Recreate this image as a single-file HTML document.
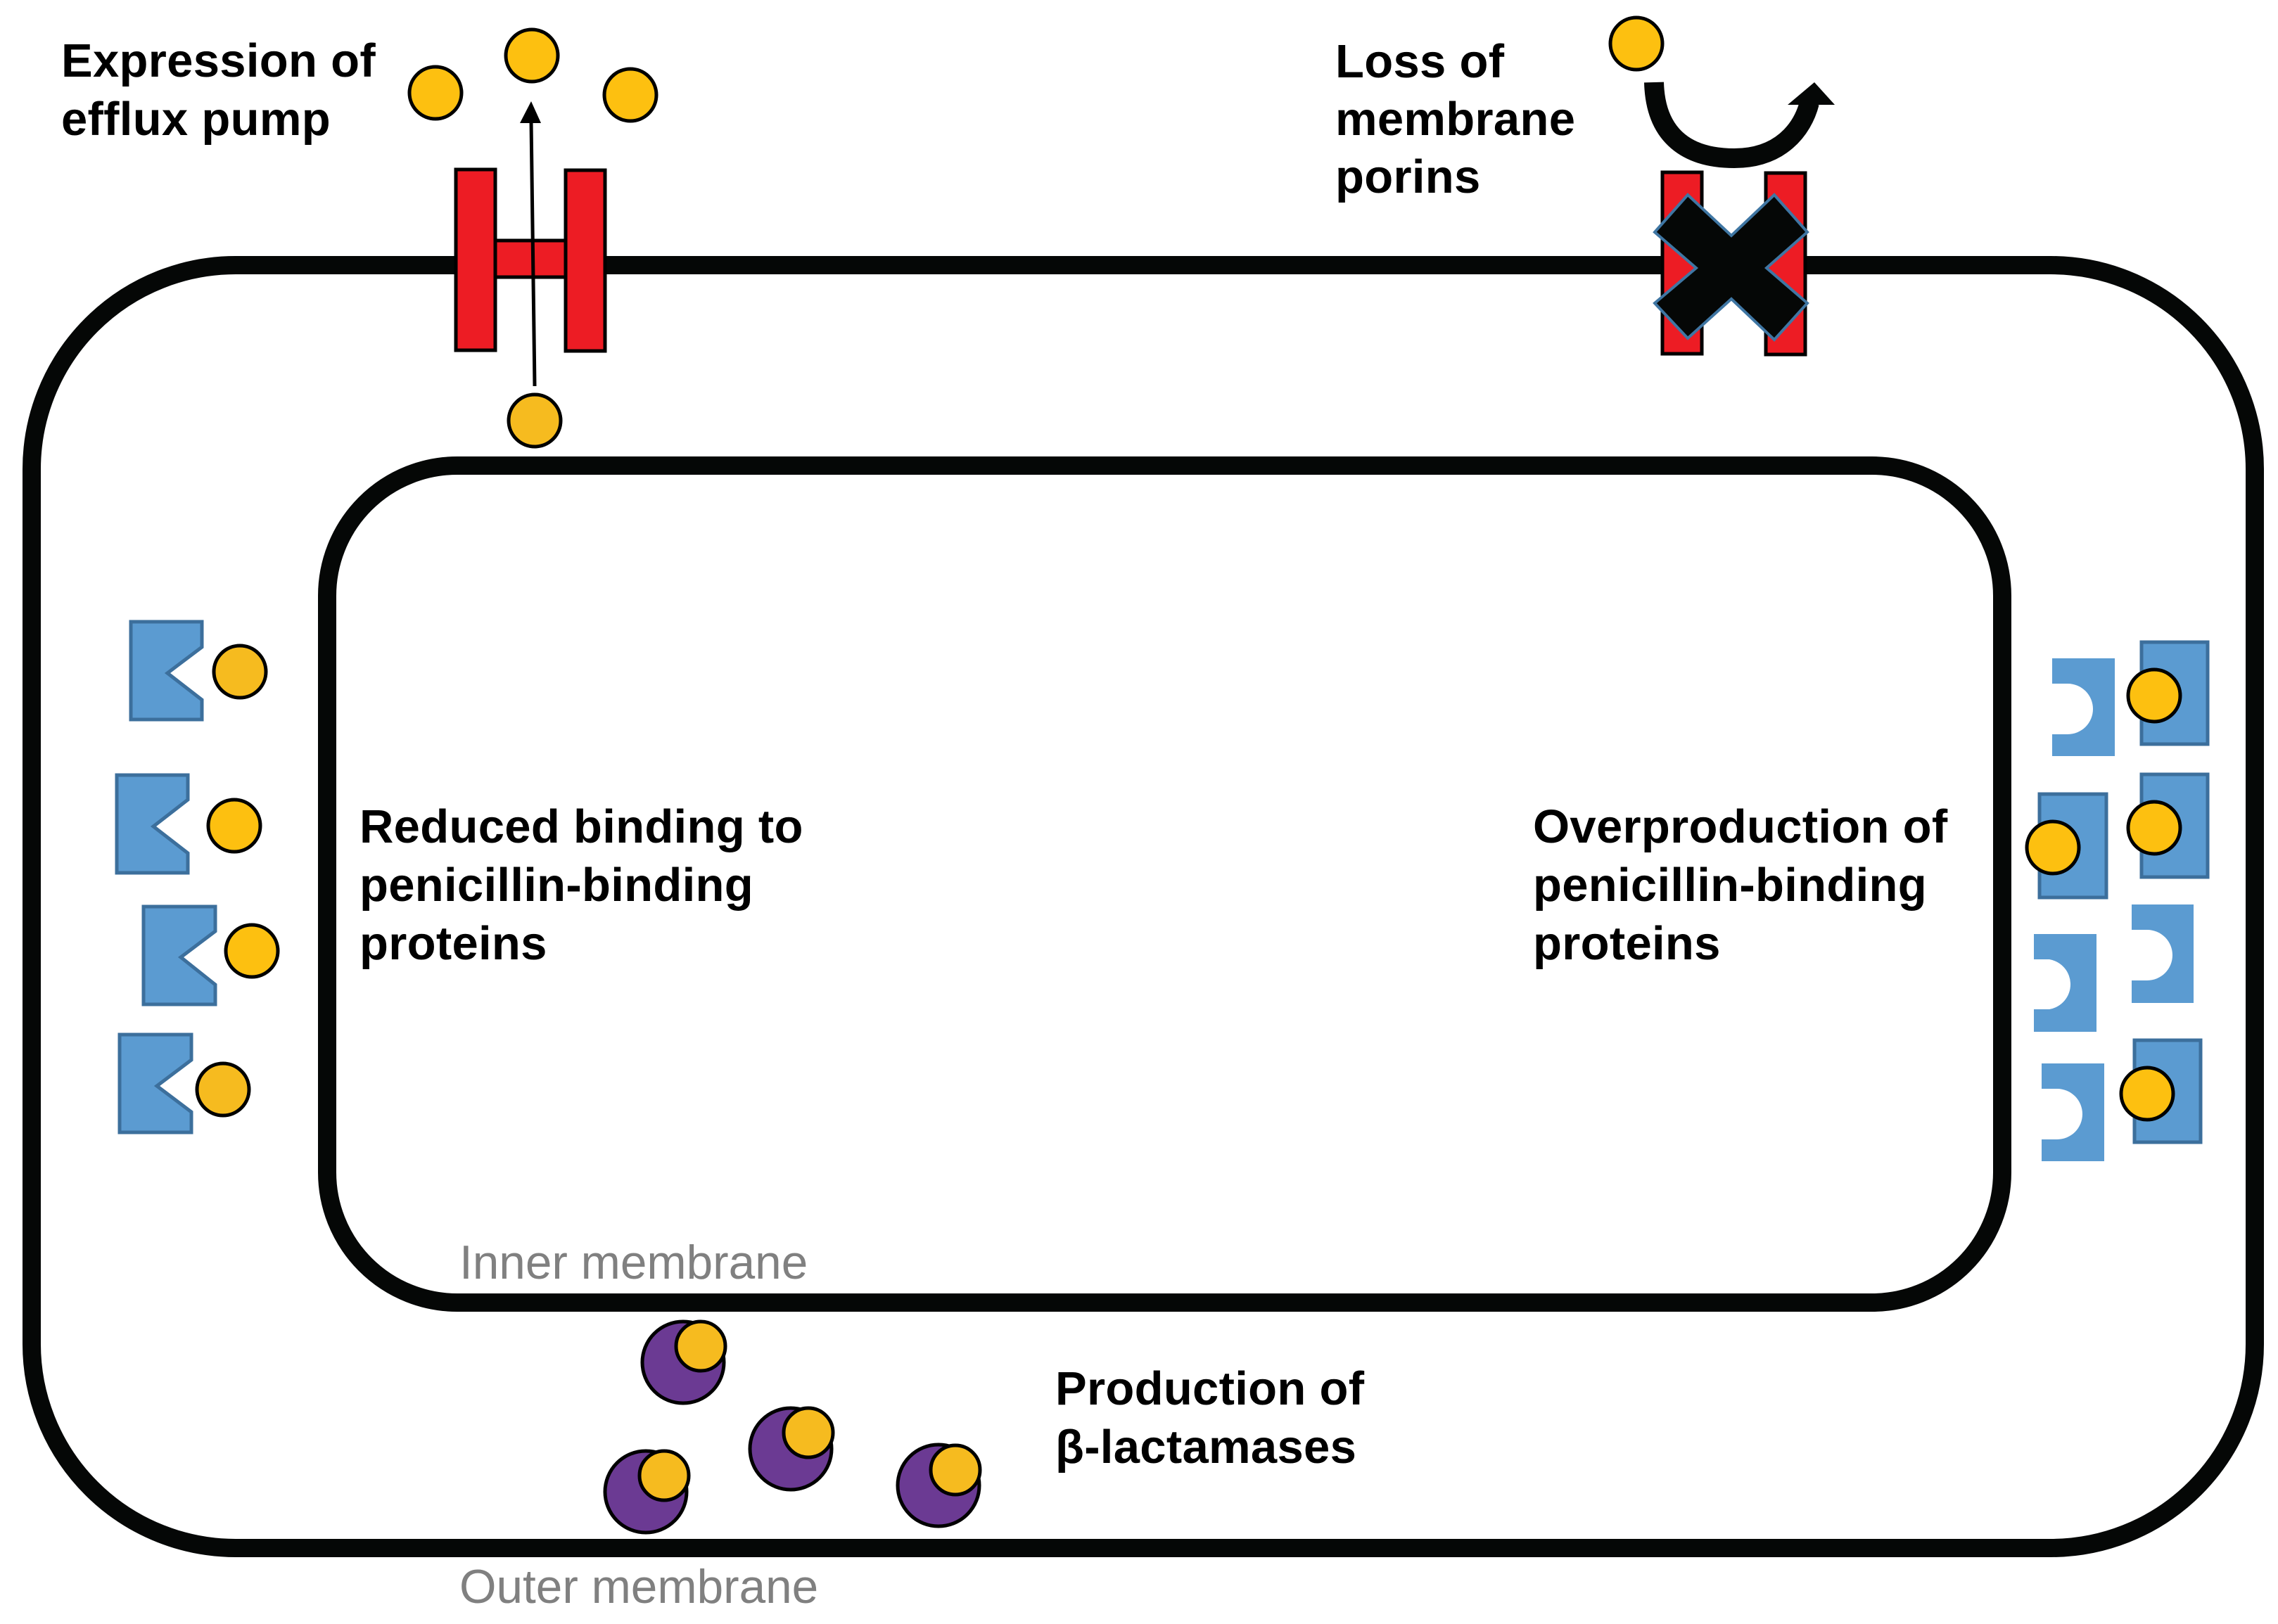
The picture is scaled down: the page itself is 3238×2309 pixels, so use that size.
<!DOCTYPE html>
<html><head><meta charset="utf-8"><style>
html,body{margin:0;padding:0;background:#fff;}
svg{display:block;}
.b{font-family:"Liberation Sans",Arial,sans-serif;font-weight:bold;font-size:67px;letter-spacing:0.3px;fill:#000;}
.g{font-family:"Liberation Sans",Arial,sans-serif;font-size:67.5px;fill:#808080;}
</style></head><body>
<svg width="3238" height="2309" viewBox="0 0 3238 2309" xmlns="http://www.w3.org/2000/svg">
<rect width="3238" height="2309" fill="#fff"/>
<rect x="45" y="377" width="3160" height="1824" rx="290" ry="290" fill="none" stroke="#050706" stroke-width="26"/>
<rect x="465" y="662" width="2381" height="1190" rx="185" ry="185" fill="none" stroke="#050706" stroke-width="26"/>

<rect x="648" y="241" width="56" height="257" fill="#ed1c24" stroke="#000" stroke-width="5"/>
<rect x="804" y="242" width="56" height="257" fill="#ed1c24" stroke="#000" stroke-width="5"/>
<rect x="704" y="342" width="100" height="52" fill="#ed1c24" stroke="#000" stroke-width="5"/>
<line x1="760" y1="549" x2="755" y2="172" stroke="#000" stroke-width="5"/>
<polygon points="755,144 739,175 769,175" fill="#000"/>
<g fill="#fdc010" stroke="#000" stroke-width="5">
<circle cx="619" cy="132" r="37"/>
<circle cx="756" cy="79" r="37"/>
<circle cx="896" cy="135" r="37"/>
<circle cx="760" cy="598" r="37" fill="#f6bb1f"/>
</g>

<rect x="2363" y="245" width="56" height="258" fill="#ed1c24" stroke="#000" stroke-width="5"/>
<rect x="2510" y="246" width="56" height="258" fill="#ed1c24" stroke="#000" stroke-width="5"/>
<polygon points="2399,277 2461,335 2522,277 2569,330 2511,381 2569,431 2522,483 2461,425 2399,481 2352,431 2411,381 2352,330" fill="#050706" stroke="#3f76a3" stroke-width="4"/>
<circle cx="2326" cy="62" r="37" fill="#fdc010" stroke="#000" stroke-width="5"/>
<path d="M2351,117 C2353,195 2400,225 2465,225 C2530,225 2562,185 2572,146" fill="none" stroke="#050706" stroke-width="28"/>
<polygon points="2579,117 2541,149 2608,149" fill="#050706"/>

<g fill="#5b9bd1" stroke="#3c6f9c" stroke-width="5">
<polygon points="186,884 287,884 287,920 238,957 287,995 287,1023 186,1023"/>
<polygon points="166,1102 267,1102 267,1137 218,1175 267,1213 267,1241 166,1241"/>
<polygon points="204,1289 306,1289 306,1324 257,1361 306,1400 306,1428 204,1428"/>
<polygon points="170,1471 272,1471 272,1507 223,1544 272,1581 272,1610 170,1610"/>
</g>
<g fill="#f6bb1f" stroke="#000" stroke-width="5">
<circle cx="341" cy="955" r="37"/>
<circle cx="333" cy="1174" r="37" fill="#fdc010"/>
<circle cx="358" cy="1352" r="37" fill="#fdc010"/>
<circle cx="317" cy="1549" r="37"/>
</g>

<g fill="#5b9bd1">
<path d="M2917,936 H3006 V1075 H2917 V1044 H2939 A36,36 0 0 0 2939,972 H2917 Z"/>
<path d="M3030,1286 H3118 V1426 H3030 V1394 H3052 A36,36 0 0 0 3052,1322 H3030 Z"/>
<path d="M2891,1328 H2980 V1467 H2891 V1435 H2913 A36,36 0 0 0 2913,1364 H2891 Z"/>
<path d="M2902,1512 H2991 V1651 H2902 V1620 H2924 A36,36 0 0 0 2924,1548 H2902 Z"/>
</g>
<g fill="#5b9bd1" stroke="#3c6f9c" stroke-width="5">
<rect x="3044" y="913" width="94" height="145"/>
<rect x="2899" y="1129" width="95" height="147"/>
<rect x="3044" y="1101" width="94" height="146"/>
<rect x="3034" y="1479" width="94" height="145"/>
</g>
<g fill="#fdc010" stroke="#000" stroke-width="5">
<circle cx="3062" cy="989" r="37"/>
<circle cx="2918" cy="1205" r="37"/>
<circle cx="3062" cy="1177" r="37"/>
<circle cx="3052" cy="1555" r="37"/>
</g>

<g stroke="#000" stroke-width="5">
<circle cx="971" cy="1937" r="58" fill="#6b3a93"/>
<circle cx="996" cy="1914" r="35" fill="#f6bb1f"/>
<circle cx="1124" cy="2060" r="58" fill="#6b3a93"/>
<circle cx="1149" cy="2037" r="35" fill="#f6bb1f"/>
<circle cx="918" cy="2121" r="58" fill="#6b3a93"/>
<circle cx="944" cy="2098" r="35" fill="#f6bb1f"/>
<circle cx="1334" cy="2112" r="58" fill="#6b3a93"/>
<circle cx="1358" cy="2090" r="35" fill="#f6bb1f"/>
</g>

<text class="b" x="87" y="109">Expression of</text>
<text class="b" x="87" y="192">efflux pump</text>
<text class="b" x="1898" y="110">Loss of</text>
<text class="b" x="1898" y="192">membrane</text>
<text class="b" x="1898" y="274">porins</text>
<text class="b" x="511" y="1198">Reduced binding to</text>
<text class="b" x="511" y="1281">penicillin-binding</text>
<text class="b" x="511" y="1364">proteins</text>
<text class="b" x="2179" y="1198">Overproduction of</text>
<text class="b" x="2179" y="1281">penicillin-binding</text>
<text class="b" x="2179" y="1364">proteins</text>
<text class="b" x="1500" y="1997">Production of</text>
<text class="b" x="1500" y="2080">β-lactamases</text>
<text class="g" x="653" y="1818">Inner membrane</text>
<text class="g" x="653" y="2279">Outer membrane</text>
</svg>
</body></html>
